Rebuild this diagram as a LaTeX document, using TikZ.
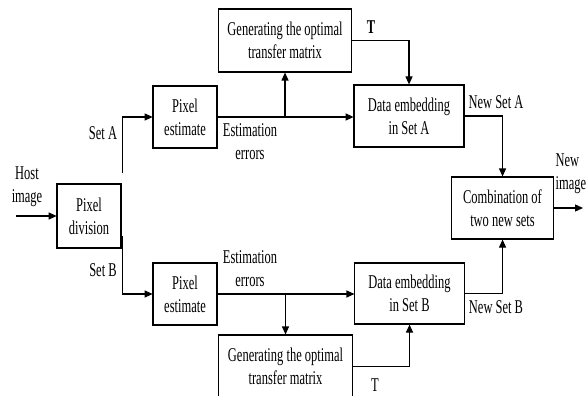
\documentclass[tikz,border=0pt]{standalone}
\usepackage{fontspec}
\setmainfont{Liberation Serif}
\usepackage{tikz}
\usetikzlibrary{arrows.meta}

\tikzset{
  block/.style={draw, line width=1.1pt, align=center, inner sep=0pt},
  lbl/.style={align=center, inner sep=0pt},
  arr/.style={-{Triangle[length=8pt,width=7pt]}, line width=1.1pt}
}

\begin{document}
\begin{tikzpicture}[x=1.5625pt, y=-1pt, xscale=0.64,
    every node/.style={transform shape, font=\fontsize{19.5}{23}\selectfont}]
    \useasboundingbox (0,0) rectangle (587,396);

    % blocks
    \node[block, minimum width=100pt, minimum height=64pt] (division) at (89,216) {Pixel\\division};
    \node[block, minimum width=100pt, minimum height=62pt] (estA) at (185,117) {Pixel\\estimate};
    \node[block, minimum width=100pt, minimum height=62pt] (estB) at (185,294) {Pixel\\estimate};
    \node[block, minimum width=209pt, minimum height=63pt] (genA) at (285,40.5) {Generating the optimal\\transfer matrix};
    \node[block, minimum width=210pt, minimum height=63pt] (genB) at (285.5,366.5) {Generating the optimal\\transfer matrix};
    \node[block, minimum width=172pt, minimum height=62pt] (dataA) at (409,116) {Data embedding\\in Set A};
    \node[block, minimum width=171pt, minimum height=61pt] (dataB) at (409.5,293.5) {Data embedding\\in Set B};
    \node[block, minimum width=158pt, minimum height=62pt] (comb) at (502.5,208) {Combination of\\two new sets};

    % free ends
    \coordinate (hostin) at (16,216);
    \coordinate (sa) at (122.5,173);
    \coordinate (sb) at (122.5,236);
    \coordinate (out) at (583,208);

    % input and division
    \draw[arr] (hostin) -- (division.west);
    \draw[arr] (sa) |- (estA.west);
    \draw[arr] (sb) |- (estB.west);

    % upper branch
    \draw[arr] (estA.east) -- (dataA.west |- estA.east);
    \draw[arr] (genA.south |- estA.east) -- (genA.south);
    \draw[arr] (genA.east) -| (dataA.north);
    \draw[arr] (dataA.east) -| (comb.north);

    % lower branch
    \draw[arr] (estB.east) -- (dataB.west |- estB.east);
    \draw[arr] (genB.north |- estB.east) -- (genB.north);
    \draw[arr] (genB.east) -| (dataB.south);
    \draw[arr] (dataB.east) -| (comb.south);

    % output
    \draw[arr] (comb.east) -- (out);

    % labels
    \node[lbl] (host) at (27,187) {Host\\image};
    \node[lbl] (setA) at (103,133) {Set A};
    \node[lbl] (setB) at (103,270) {Set B};
    \node[lbl] (errA) at (250,142) {Estimation\\errors};
    \node[lbl] (errB) at (250,269) {Estimation\\errors};
    \node[lbl] (tA) at (371,27) {\textbf{T}};
    \node[lbl] (tB) at (375,385) {T};
    \node[lbl] (newA) at (496,102) {New Set A};
    \node[lbl] (newB) at (496,307) {New Set B};
    \node[lbl, anchor=west, align=left] (newimg) at (555.5,174) {New\\image};
\end{tikzpicture}
\end{document}
